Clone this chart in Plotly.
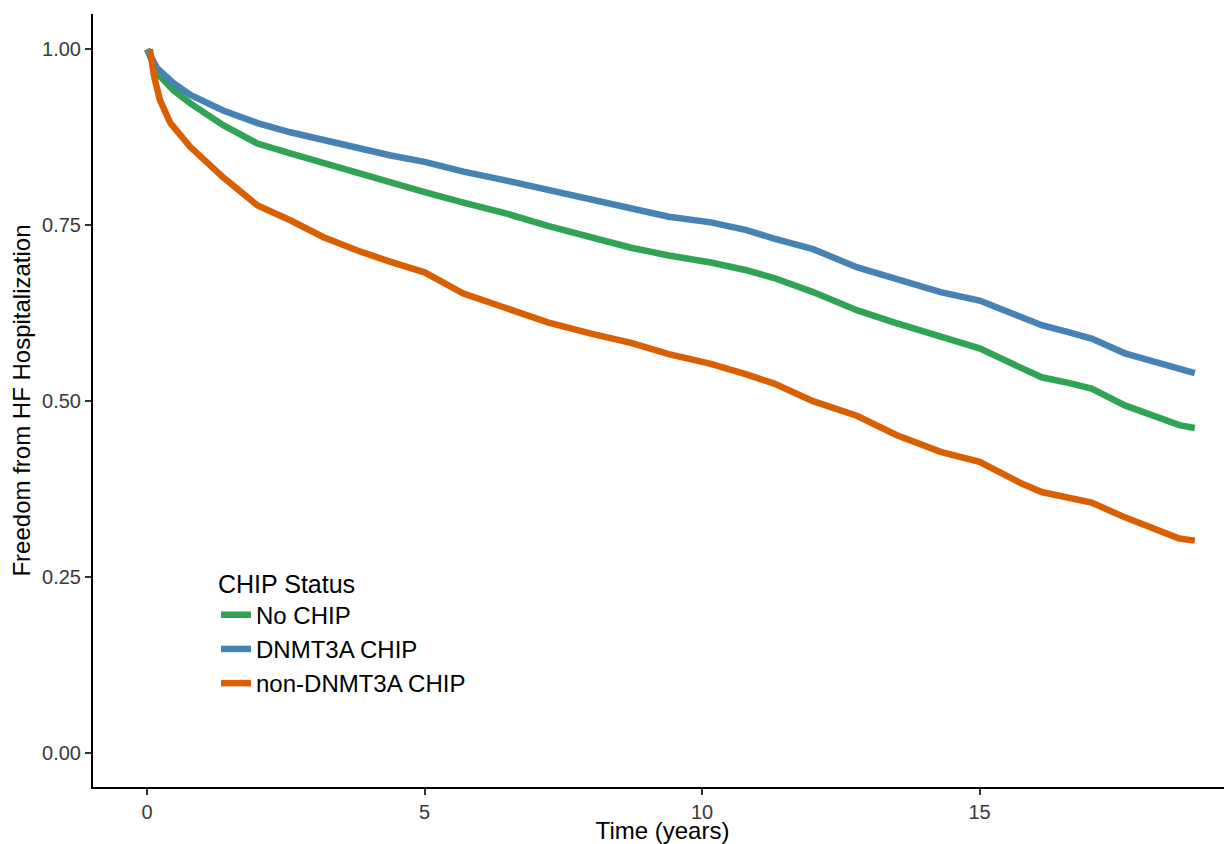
import plotly.graph_objects as go

# Data
t_no = [0.0, 0.18, 0.47, 0.78, 1.37, 1.99, 2.58, 3.18, 3.79, 4.39, 5.0, 5.7, 6.5, 7.22, 8.0, 8.72, 9.4, 10.16, 10.8, 11.3, 12.0, 12.8, 13.5, 14.3, 15.0, 15.76, 16.12, 16.6, 17.02, 17.62, 18.23, 18.6, 18.88]
s_no = [1.0, 0.966, 0.942, 0.923, 0.892, 0.866, 0.852, 0.838, 0.824, 0.81, 0.797, 0.782, 0.766, 0.749, 0.733, 0.718, 0.707, 0.697, 0.686, 0.675, 0.655, 0.629, 0.611, 0.591, 0.575, 0.547, 0.534, 0.526, 0.518, 0.494, 0.477, 0.466, 0.462]

t_dn = [0.0, 0.18, 0.47, 0.78, 1.37, 1.99, 2.58, 3.18, 3.79, 4.39, 5.0, 5.7, 6.5, 7.22, 8.0, 8.72, 9.4, 10.16, 10.8, 11.3, 12.0, 12.8, 13.5, 14.3, 15.0, 15.76, 16.12, 16.6, 17.02, 17.62, 18.23, 18.6, 18.88]
s_dn = [1.0, 0.973, 0.952, 0.935, 0.913, 0.895, 0.882, 0.871, 0.861, 0.849, 0.84, 0.826, 0.813, 0.80, 0.787, 0.773, 0.762, 0.754, 0.743, 0.731, 0.716, 0.69, 0.674, 0.655, 0.643, 0.618, 0.608, 0.598, 0.589, 0.568, 0.554, 0.545, 0.540]

t_non = [0.05, 0.13, 0.23, 0.42, 0.78, 1.37, 1.99, 2.58, 3.18, 3.79, 4.39, 5.0, 5.7, 6.5, 7.22, 8.0, 8.72, 9.4, 10.16, 10.8, 11.3, 12.0, 12.8, 13.5, 14.3, 15.0, 15.76, 16.12, 16.6, 17.02, 17.62, 18.23, 18.6, 18.88]
s_non = [1.0, 0.96, 0.928, 0.895, 0.861, 0.818, 0.778, 0.757, 0.733, 0.714, 0.698, 0.683, 0.653, 0.632, 0.612, 0.596, 0.583, 0.567, 0.553, 0.538, 0.525, 0.50, 0.479, 0.452, 0.428, 0.414, 0.383, 0.371, 0.362, 0.356, 0.335, 0.317, 0.305, 0.302]

names = ["No CHIP", "DNMT3A CHIP", "non-DNMT3A CHIP"]
colors = ["#31A354", "#4682B4", "#D95F02"]

fig = go.Figure()
for t, s, n, c in [(t_no, s_no, names[0], colors[0]),
                   (t_dn, s_dn, names[1], colors[1]),
                   (t_non, s_non, names[2], colors[2])]:
    fig.add_trace(go.Scatter(x=t, y=s, mode="lines", name=n,
                             line=dict(color=c, width=6.5)))

# the page body adds an 8px offset, so the figure is 8px smaller and shifted
fig.update_layout(
    width=1224, height=836,
    margin=dict(l=85, r=0, t=6, b=57, autoexpand=False),
    plot_bgcolor="white", paper_bgcolor="white",
    font=dict(family="Liberation Sans, Arial, sans-serif", color="black"),
    legend=dict(
        title=dict(text="CHIP Status", font=dict(size=25, color="black")),
        font=dict(size=24, color="black"),
        x=0.108, y=0.2935, xanchor="left", yanchor="top",
        bgcolor="rgba(0,0,0,0)", itemwidth=30,
    ),
    xaxis=dict(
        range=[-0.975, 19.55], tickvals=[0, 5, 10, 15],
        showgrid=False, zeroline=False, showline=True, linecolor="black", linewidth=2,
        ticks="outside", ticklen=6, tickwidth=1.5, tickcolor="#333333",
        tickfont=dict(size=20, color="#3a3a3a"), automargin=False,
        title=dict(text="Time (years)", font=dict(size=24, color="black"), standoff=2),
    ),
    yaxis=dict(
        range=[-0.048, 1.05], tickvals=[0, 0.25, 0.5, 0.75, 1.0],
        ticktext=["0.00", "0.25", "0.50", "0.75", "1.00"],
        showgrid=False, zeroline=False, showline=True, linecolor="black", linewidth=2,
        ticks="outside", ticklen=6, tickwidth=1.5, tickcolor="#333333",
        tickfont=dict(size=20, color="#3a3a3a"), automargin=False,
        title=dict(text="Freedom from HF Hospitalization", font=dict(size=24, color="black"), standoff=6),
    ),
)

fig.write_html("out.html")
